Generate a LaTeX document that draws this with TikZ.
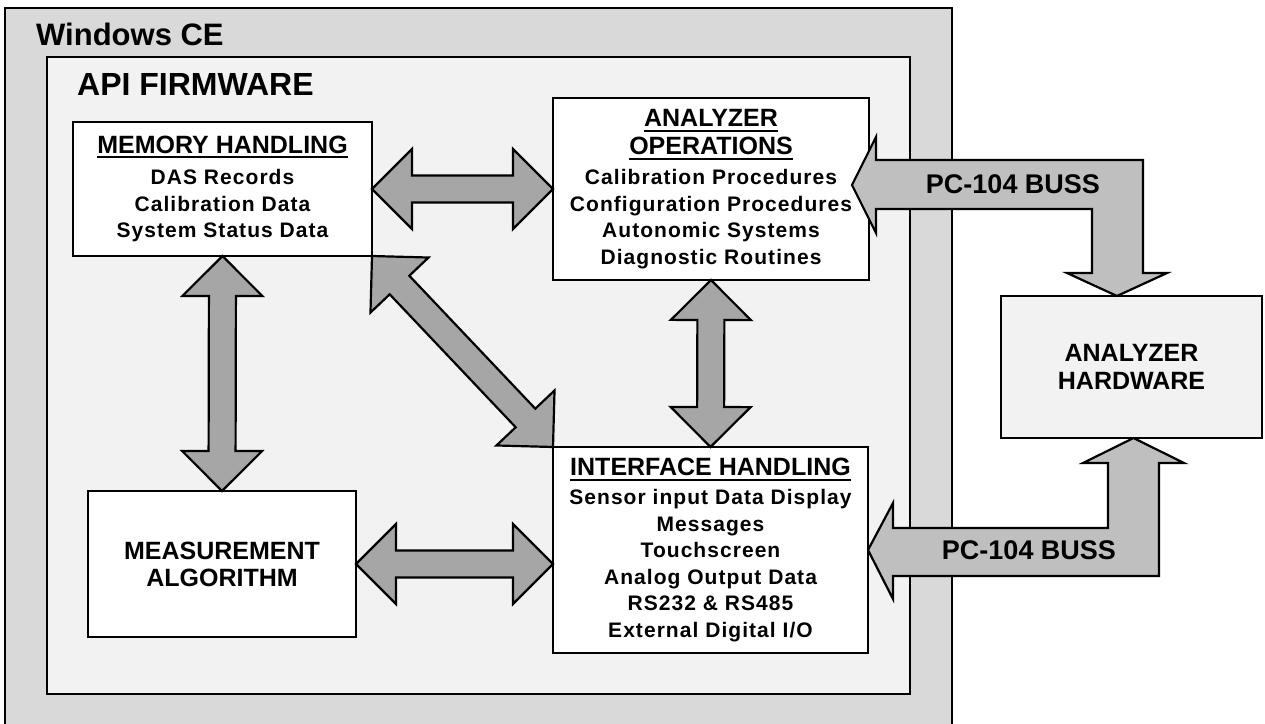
\documentclass[tikz,border=0pt]{standalone}
\usepackage{fontspec}
\setmainfont{Liberation Sans}
\newfontfamily\bodyf[LetterSpace=5]{Liberation Sans}
\usetikzlibrary{calc}
\definecolor{outerg}{HTML}{D9D9D9}
\definecolor{innerg}{HTML}{F2F2F2}
\definecolor{arrowg}{HTML}{A6A6A6}
\definecolor{busg}{HTML}{BFBFBF}
\newcommand\ulbar[1]{\setbox0\hbox{#1}\leavevmode\rlap{\vrule height -3pt depth 5pt width \wd0}\box0}
\newcommand\tsz{\rmfamily\bfseries\fontsize{25}{26.5}\selectfont}
\newcommand\bsz{\bodyf\bfseries\fontsize{21}{26.5}\selectfont}
\newcommand\dblarrow[2]{%
  \path (#1) coordinate (da) (#2) coordinate (db);
  \path ($(da)!40pt!(db)$) coordinate (pa) ($(db)!40pt!(da)$) coordinate (qa);
  \draw[fat] (da) -- ($(pa)!40pt!90:(db)$) -- ($(pa)!13.5pt!90:(db)$)
    -- ($(qa)!13.5pt!-90:(da)$) -- ($(qa)!40pt!-90:(da)$) -- (db)
    -- ($(qa)!40pt!90:(da)$) -- ($(qa)!13.5pt!90:(da)$)
    -- ($(pa)!13.5pt!-90:(db)$) -- ($(pa)!40pt!-90:(db)$) -- cycle;}
\tikzset{
  box/.style={draw, line width=2.5pt, fill=white, align=center, inner sep=0pt, outer sep=0pt, font=\bsz},
  fat/.style={draw, line width=2.2pt, fill=arrowg, line join=miter},
  bus/.style={draw, line width=2.2pt, fill=busg, line join=miter},
  frame/.style={draw, line width=2.5pt},
}
\begin{document}
\begin{tikzpicture}[x=1pt,y=-1pt]
\useasboundingbox (0,0) rectangle (1265,723);
\clip (0,0) rectangle (1265,723);
\fill[white] (0,0) rectangle (1265,723);
% frames
\draw[frame, fill=outerg] (5,8) rectangle (952,760);
\draw[frame, fill=innerg] (47,57) rectangle (910,694);
\node[anchor=base west, inner sep=0pt, font=\bfseries\fontsize{31}{31}\selectfont] (wince) at (36,45) {Windows CE};
\node[anchor=base west, inner sep=0pt, font=\bfseries\fontsize{32}{32}\selectfont] (api) at (77,95) {API FIRMWARE};
% boxes
\node[box, minimum width=299pt, minimum height=134pt] (mem) at (222.5,189)
  {{\tsz\ulbar{MEMORY HANDLING}}\\[5pt]
   DAS Records\\ Calibration Data\\ System Status Data};
\node[box, minimum width=316pt, minimum height=182pt] (ops) at (711,189)
  {{\tsz\ulbar{ANALYZER}}\\[1.5pt] {\tsz\ulbar{OPERATIONS}}\\[3.5pt]
   Calibration Procedures\\ Configuration Procedures\\
   Autonomic Systems\\ Diagnostic Routines};
\node[box, minimum width=268pt, minimum height=146pt] (meas) at (222,564)
  {{\tsz MEASUREMENT}\\[0.5pt] {\tsz ALGORITHM}};
\node[box, minimum width=315pt, minimum height=206pt] (int) at (710.5,550)
  {{\tsz\ulbar{INTERFACE HANDLING}}\\[2.5pt]
   Sensor input Data Display\\ Messages\\ Touchscreen\\
   Analog Output Data\\ RS232 \& RS485\\ External Digital I/O};
\node[box, fill=innerg, minimum width=261pt, minimum height=142pt] (hw) at (1131.5,367)
  {{\tsz ANALYZER}\\[1.5pt] {\tsz HARDWARE}};
% double arrows
\dblarrow{mem.east}{ops.west}
\dblarrow{mem.south}{meas.north}
\dblarrow{ops.south}{int.north}
\dblarrow{meas.east}{int.west |- meas.east}
\dblarrow{mem.south east}{int.north west}
% bus arrows
\coordinate (b1tip) at (852,185);
\coordinate (b2tip) at (868,550);
\draw[bus] (b1tip) -- (876,137) -- (876,160) -- (1143,160) -- (1143,273) -- (1167,273)
  -- (hw.north west -| 1117,0) -- (1067,273) -- (1092,273) -- (1092,209) -- (876,209) -- (876,233) -- cycle;
\draw[bus] (b2tip) -- (893,503) -- (893,528) -- (1108,528) -- (1108,463) -- (1083,463)
  -- (hw.south west -| 1133.5,0) -- (1184,463) -- (1159,463) -- (1159,576) -- (893,576) -- (893,599) -- cycle;
\node[font=\bfseries\fontsize{27}{27}\selectfont, inner sep=0pt] (bus1) at (1013,184) {PC-104 BUSS};
\node[font=\bfseries\fontsize{27}{27}\selectfont, inner sep=0pt] (bus2) at (1029,550) {PC-104 BUSS};
\end{tikzpicture}
\end{document}
